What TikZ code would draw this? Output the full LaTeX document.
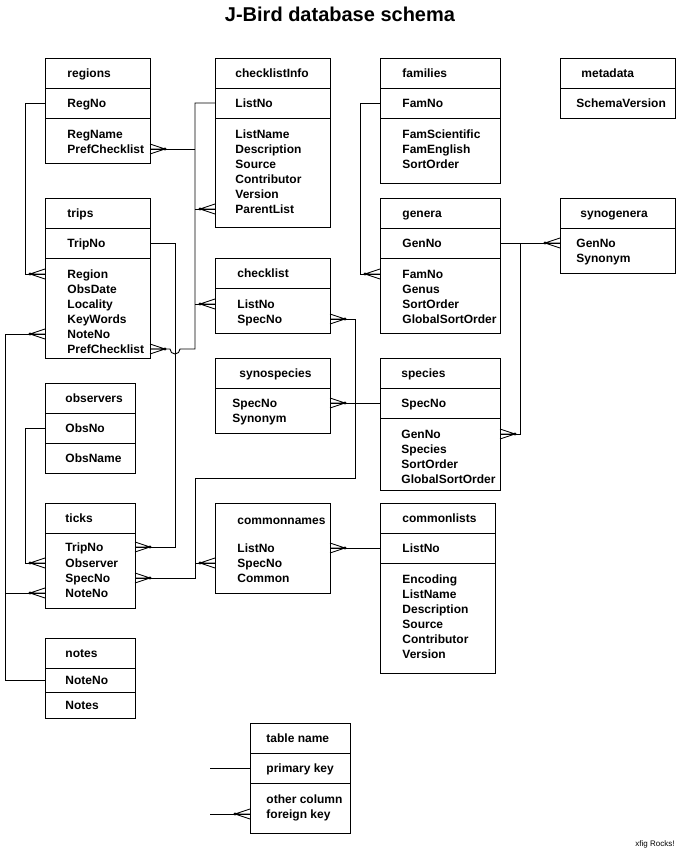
\documentclass[tikz,border=0pt]{standalone}
\usepackage{fontspec}
\setmainfont{Liberation Sans}
\tikzset{
  sec/.style={draw, anchor=north west, inner sep=0pt, outer sep=0pt},
  fld/.style={anchor=west, inner sep=0pt, text height=8.6pt, text depth=0pt,
    font=\fontsize{12}{14}\selectfont\bfseries},
  crow/.pic={
    \draw (-15,0) -- (0,-5) (-15,0) -- (0,0) (-15,0) -- (0,5);
    \fill (-15,0) circle (1.6);
  }
}
\begin{document}
\begin{tikzpicture}[x=1pt, y=-1pt, line width=0.9pt]
  \useasboundingbox (0,0) rectangle (682,856);
  \node[inner sep=0pt, text height=14.4pt, text depth=0pt, font=\fontsize{20}{24}\selectfont\bfseries]
    (title) at (340,14) {J-Bird database schema};

  \node[sec, minimum width=105pt, minimum height=30pt] (regions) at (45,58) {};
  \node[sec, minimum width=105pt, minimum height=30pt] (regions-key) at (45,88) {};
  \node[sec, minimum width=105pt, minimum height=45pt] (regions-body) at (45,118) {};
  \node[fld] (regions-name) at (67,73) {regions};
  \node[fld] (regions-RegNo) at (67,103) {RegNo};
  \node[fld] (regions-RegName) at (67,134) {RegName};
  \node[fld] (regions-PrefChecklist) at (67,149) {PrefChecklist};

  \node[sec, minimum width=115pt, minimum height=30pt] (checklistInfo) at (215,58) {};
  \node[sec, minimum width=115pt, minimum height=30pt] (checklistInfo-key) at (215,88) {};
  \node[sec, minimum width=115pt, minimum height=109pt] (checklistInfo-body) at (215,118) {};
  \node[fld] (checklistInfo-name) at (235,73) {checklistInfo};
  \node[fld] (checklistInfo-ListNo) at (235,103) {ListNo};
  \node[fld] (checklistInfo-ListName) at (235,134) {ListName};
  \node[fld] (checklistInfo-Description) at (235,149) {Description};
  \node[fld] (checklistInfo-Source) at (235,164) {Source};
  \node[fld] (checklistInfo-Contributor) at (235,179) {Contributor};
  \node[fld] (checklistInfo-Version) at (235,194) {Version};
  \node[fld] (checklistInfo-ParentList) at (235,209) {ParentList};

  \node[sec, minimum width=120pt, minimum height=30pt] (families) at (380,58) {};
  \node[sec, minimum width=120pt, minimum height=30pt] (families-key) at (380,88) {};
  \node[sec, minimum width=120pt, minimum height=65pt] (families-body) at (380,118) {};
  \node[fld] (families-name) at (402,73) {families};
  \node[fld] (families-FamNo) at (402,103) {FamNo};
  \node[fld] (families-FamScientific) at (402,134) {FamScientific};
  \node[fld] (families-FamEnglish) at (402,149) {FamEnglish};
  \node[fld] (families-SortOrder) at (402,164) {SortOrder};

  \node[sec, minimum width=115pt, minimum height=30pt] (metadata) at (560,58) {};
  \node[sec, minimum width=115pt, minimum height=30pt] (metadata-key) at (560,88) {};
  \node[fld] (metadata-name) at (581,73) {metadata};
  \node[fld] (metadata-SchemaVersion) at (576,103) {SchemaVersion};

  \node[sec, minimum width=105pt, minimum height=30pt] (trips) at (45,198) {};
  \node[sec, minimum width=105pt, minimum height=30pt] (trips-key) at (45,228) {};
  \node[sec, minimum width=105pt, minimum height=100pt] (trips-body) at (45,258) {};
  \node[fld] (trips-name) at (67,213) {trips};
  \node[fld] (trips-TripNo) at (67,243) {TripNo};
  \node[fld] (trips-Region) at (67,274) {Region};
  \node[fld] (trips-ObsDate) at (67,289) {ObsDate};
  \node[fld] (trips-Locality) at (67,304) {Locality};
  \node[fld] (trips-KeyWords) at (67,319) {KeyWords};
  \node[fld] (trips-NoteNo) at (67,334) {NoteNo};
  \node[fld] (trips-PrefChecklist) at (67,349) {PrefChecklist};

  \node[sec, minimum width=120pt, minimum height=30pt] (genera) at (380,198) {};
  \node[sec, minimum width=120pt, minimum height=30pt] (genera-key) at (380,228) {};
  \node[sec, minimum width=120pt, minimum height=75pt] (genera-body) at (380,258) {};
  \node[fld] (genera-name) at (402,213) {genera};
  \node[fld] (genera-GenNo) at (402,243) {GenNo};
  \node[fld] (genera-FamNo) at (402,274) {FamNo};
  \node[fld] (genera-Genus) at (402,289) {Genus};
  \node[fld] (genera-SortOrder) at (402,304) {SortOrder};
  \node[fld] (genera-GlobalSortOrder) at (402,319) {GlobalSortOrder};

  \node[sec, minimum width=115pt, minimum height=30pt] (synogenera) at (560,198) {};
  \node[sec, minimum width=115pt, minimum height=45pt] (synogenera-body) at (560,228) {};
  \node[fld] (synogenera-name) at (580,213) {synogenera};
  \node[fld] (synogenera-GenNo) at (576,243) {GenNo};
  \node[fld] (synogenera-Synonym) at (576,258) {Synonym};

  \node[sec, minimum width=115pt, minimum height=30pt] (checklist) at (215,258) {};
  \node[sec, minimum width=115pt, minimum height=45pt] (checklist-body) at (215,288) {};
  \node[fld] (checklist-name) at (237,273) {checklist};
  \node[fld] (checklist-ListNo) at (237,304) {ListNo};
  \node[fld] (checklist-SpecNo) at (237,319) {SpecNo};

  \node[sec, minimum width=115pt, minimum height=30pt] (synospecies) at (215,358) {};
  \node[sec, minimum width=115pt, minimum height=45pt] (synospecies-body) at (215,388) {};
  \node[fld] (synospecies-name) at (239,373) {synospecies};
  \node[fld] (synospecies-SpecNo) at (232,403) {SpecNo};
  \node[fld] (synospecies-Synonym) at (232,418) {Synonym};

  \node[sec, minimum width=120pt, minimum height=30pt] (species) at (380,358) {};
  \node[sec, minimum width=120pt, minimum height=30pt] (species-key) at (380,388) {};
  \node[sec, minimum width=120pt, minimum height=72pt] (species-body) at (380,418) {};
  \node[fld] (species-name) at (401,373) {species};
  \node[fld] (species-SpecNo) at (401,403) {SpecNo};
  \node[fld] (species-GenNo) at (401,434) {GenNo};
  \node[fld] (species-Species) at (401,449) {Species};
  \node[fld] (species-SortOrder) at (401,464) {SortOrder};
  \node[fld] (species-GlobalSortOrder) at (401,479) {GlobalSortOrder};

  \node[sec, minimum width=90pt, minimum height=30pt] (observers) at (45,383) {};
  \node[sec, minimum width=90pt, minimum height=30pt] (observers-key) at (45,413) {};
  \node[sec, minimum width=90pt, minimum height=30pt] (observers-body) at (45,443) {};
  \node[fld] (observers-name) at (65,398) {observers};
  \node[fld] (observers-ObsNo) at (65,428) {ObsNo};
  \node[fld] (observers-ObsName) at (65,458) {ObsName};

  \node[sec, minimum width=90pt, minimum height=30pt] (ticks) at (45,503) {};
  \node[sec, minimum width=90pt, minimum height=75pt] (ticks-body) at (45,533) {};
  \node[fld] (ticks-name) at (65,518) {ticks};
  \node[fld] (ticks-TripNo) at (65,547) {TripNo};
  \node[fld] (ticks-Observer) at (65,563) {Observer};
  \node[fld] (ticks-SpecNo) at (65,578) {SpecNo};
  \node[fld] (ticks-NoteNo) at (65,593) {NoteNo};

  \node[sec, minimum width=115pt, minimum height=90pt] (commonnames) at (215,503) {};
  \node[fld] (commonnames-name) at (237,520) {commonnames};
  \node[fld] (commonnames-ListNo) at (237,548) {ListNo};
  \node[fld] (commonnames-SpecNo) at (237,563) {SpecNo};
  \node[fld] (commonnames-Common) at (237,578) {Common};

  \node[sec, minimum width=115pt, minimum height=30pt] (commonlists) at (380,503) {};
  \node[sec, minimum width=115pt, minimum height=30pt] (commonlists-key) at (380,533) {};
  \node[sec, minimum width=115pt, minimum height=110pt] (commonlists-body) at (380,563) {};
  \node[fld] (commonlists-name) at (402,518) {commonlists};
  \node[fld] (commonlists-ListNo) at (402,548) {ListNo};
  \node[fld] (commonlists-Encoding) at (402,579) {Encoding};
  \node[fld] (commonlists-ListName) at (402,594) {ListName};
  \node[fld] (commonlists-Description) at (402,609) {Description};
  \node[fld] (commonlists-Source) at (402,624) {Source};
  \node[fld] (commonlists-Contributor) at (402,639) {Contributor};
  \node[fld] (commonlists-Version) at (402,654) {Version};

  \node[sec, minimum width=90pt, minimum height=30pt] (notes) at (45,638) {};
  \node[sec, minimum width=90pt, minimum height=24pt] (notes-key) at (45,668) {};
  \node[sec, minimum width=90pt, minimum height=26pt] (notes-body) at (45,692) {};
  \node[fld] (notes-name) at (65,653) {notes};
  \node[fld] (notes-NoteNo) at (65,680) {NoteNo};
  \node[fld] (notes-Notes) at (65,705) {Notes};

  \node[sec, minimum width=100pt, minimum height=30pt] (legend) at (250,723) {};
  \node[sec, minimum width=100pt, minimum height=30pt] (legend-key) at (250,753) {};
  \node[sec, minimum width=100pt, minimum height=50pt] (legend-body) at (250,783) {};
  \node[fld] (legend-name) at (266,738) {table name};
  \node[fld] (legend-primarykey) at (266,768) {primary key};
  \node[fld] (legend-othercolumn) at (266,799) {other column};
  \node[fld] (legend-foreignkey) at (266,814) {foreign key};

  \node[anchor=east, inner sep=0pt, font=\fontsize{8}{9}\selectfont] (credit) at (675,844) {xfig Rocks!};

  \coordinate (notebus) at (5,0);
  \coordinate (regbus) at (25,0);
  \coordinate (tripbus) at (175,0);
  \coordinate (listbus) at (195,0);
  \coordinate (tickbus) at (195,0);
  \coordinate (specbus) at (355,0);
  \coordinate (fambus) at (360,0);
  \coordinate (genbus) at (520,0);
  \coordinate (specturn) at (355,478);
  \coordinate (legend-pk) at (210,768);
  \coordinate (legend-fk) at (210,814);

  \draw (regions-key.west) -- (regbus |- regions-key.west) |- (trips-body.west |- trips-Region) pic {crow};

  \draw (checklistInfo-key.west) -| (listbus |- trips-PrefChecklist) -- ++(-15,0)
    arc[start angle=0, end angle=180, radius=5] -- (trips-body.east |- trips-PrefChecklist) pic[rotate=180] {crow};
  \draw (listbus |- regions-PrefChecklist) -- (regions-body.east |- regions-PrefChecklist) pic[rotate=180] {crow};
  \draw (listbus |- checklistInfo-ParentList) -- (checklistInfo-body.west |- checklistInfo-ParentList) pic {crow};
  \draw (listbus |- checklist-ListNo) -- (checklist-body.west |- checklist-ListNo) pic {crow};

  \draw (trips-key.east) -- (tripbus |- trips-key.east) |- (ticks-body.east |- ticks-TripNo) pic[rotate=180] {crow};

  \draw (families-key.west) -- (fambus |- families-key.west) |- (genera-body.west |- genera-FamNo) pic {crow};

  \draw (genera-key.east) -- (synogenera-body.west |- synogenera-GenNo) pic {crow};
  \draw (genbus |- genera-key.east) |- (species-body.east |- species-GenNo) pic[rotate=180] {crow};

  \draw (species-key.west) -- (synospecies-body.east |- synospecies-SpecNo) pic[rotate=180] {crow};
  \draw (ticks-body.east |- ticks-SpecNo) pic[rotate=180] {crow} -- (tickbus |- ticks-SpecNo) |- (specturn)
    -- (specbus |- checklist-SpecNo) -- (checklist-body.east |- checklist-SpecNo) pic[rotate=180] {crow};
  \draw (tickbus |- commonnames-SpecNo) -- (commonnames.west |- commonnames-SpecNo) pic {crow};

  \draw (commonlists-key.west) -- (commonnames.east |- commonlists-key.west) pic[rotate=180] {crow};

  \draw (observers-key.west) -- (regbus |- observers-key.west) |- (ticks-body.west |- ticks-Observer) pic {crow};

  \draw (notes-key.west) -- (notebus |- notes-key.west) |- (trips-body.west |- trips-NoteNo) pic {crow};
  \draw (notebus |- ticks-NoteNo) -- (ticks-body.west |- ticks-NoteNo) pic {crow};

  \draw (legend-pk) -- (legend-key.west);
  \draw (legend-fk) -- (legend-body.west |- legend-foreignkey) pic {crow};
\end{tikzpicture}
\end{document}
